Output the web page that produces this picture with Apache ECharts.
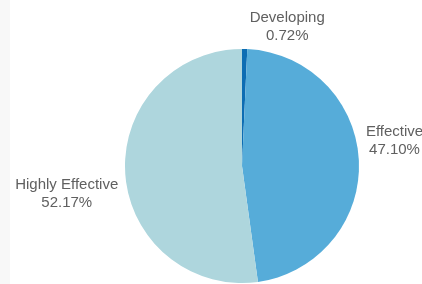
<!DOCTYPE html>
<html>
<head>
<meta charset="utf-8">
<script src="https://cdn.jsdelivr.net/npm/echarts@6/dist/echarts.min.js"></script>
<style>
  html, body { margin: 0; padding: 0; background: #fff; }
  #chart { width: 422px; height: 284px; box-sizing: border-box; border-left: 10px solid #f8f8f8; }
</style>
</head>
<body>
<div id="chart"></div>
<script>
const categories = ["Developing", "Effective", "Highly Effective"];
const shares = [0.72, 47.10, 52.17];
const colors = ["#0d6db3", "#56acd9", "#aed6dd"];

const CENTER = [232, 166];
const chart = echarts.init(document.getElementById("chart"));
chart.setOption({
  animation: false,
  series: [{
    type: "pie",
    center: CENTER,
    radius: 117,
    startAngle: 90,
    clockwise: true,
    avoidLabelOverlap: false,
    data: categories.map((name, i) => ({ name, value: shares[i], itemStyle: { color: colors[i] } })),
    label: {
      show: true,
      position: "outside",
      fontFamily: "Liberation Sans, Arial, sans-serif",
      fontSize: 15,
      lineHeight: 18,
      color: "#606060",
      formatter: p => `${p.name}\n${p.value.toFixed(2)}%`
    },
    labelLine: { show: false, length: 2, length2: 0 },
    labelLayout: p => {
      const r = p.labelRect;
      const upper = r.y + r.height / 2 < CENTER[1];
      return {
        x: r.x + r.width / 2,
        y: upper ? r.y - 2 : r.y + r.height + 2,
        align: "center",
        verticalAlign: "middle"
      };
    }
  }]
});
</script>
</body>
</html>
